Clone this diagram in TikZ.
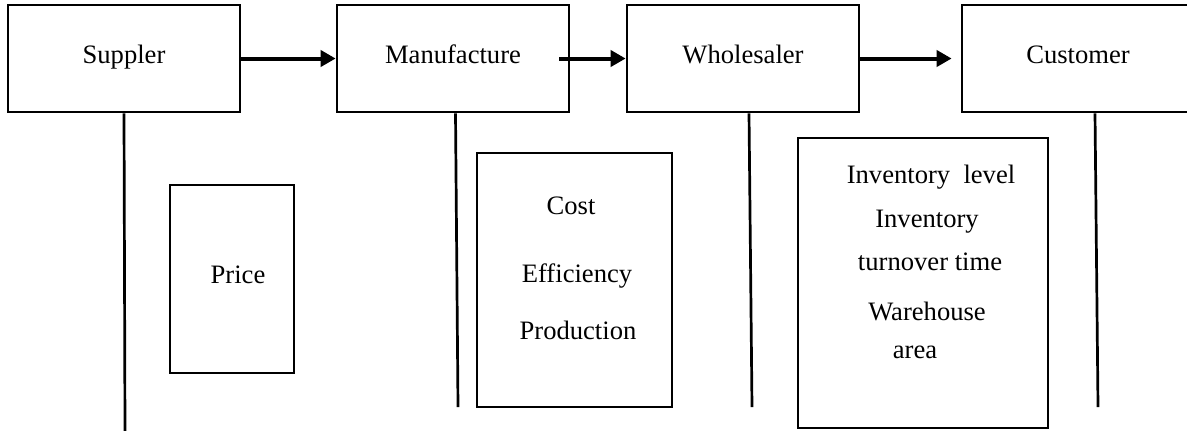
\documentclass[tikz,border=0pt]{standalone}
\usepackage{fontspec}
\setmainfont{Liberation Serif}
\usetikzlibrary{positioning,arrows.meta}

\begin{document}
\begin{tikzpicture}[x=0.5pt, y=-0.5pt,
    stagebox/.style={rectangle, draw=black, line width=1.35pt, minimum width=116pt, minimum height=53.5pt, text height=0.7em, text depth=0.25em, font=\fontsize{13.3pt}{16pt}\selectfont},
    metricbox/.style={rectangle, draw=black, line width=1.35pt},
    metrictext/.style={anchor=base, inner sep=0pt, font=\fontsize{13.3pt}{16pt}\selectfont},
    flow/.style={-{Triangle[length=7.5pt, width=8pt]}, line width=2pt},
    link/.style={line width=1.35pt},]
    \useasboundingbox (0,0) rectangle (1187,430);
    \clip (0,0) rectangle (1187,430);
    % nodes
    \node[stagebox]      (sup)                                   at (124,58.5)  {Suppler};
    \node[stagebox]      (man)       [right=47.15pt of sup]                     {Manufacture};
    \node[stagebox]      (who)       [right=27.65pt of man]                     {Wholesaler};
    \node[stagebox]      (cus)       [right=50.15pt of who]                     {Customer};
    \node[metricbox, minimum width=62pt, minimum height=94pt]     (price)   at (232,279)   {};
    \node[metricbox, minimum width=97.5pt, minimum height=127pt]  (cost)    at (574.5,280) {};
    \node[metricbox, minimum width=125pt, minimum height=145pt]   (stock)   at (923,283)   {};
    % texts
    \node[metrictext]    (pricet)     at (238,283)   {Price};
    \node[metrictext]    (costt)      at (571,214)   {Cost};
    \node[metrictext]    (efft)       at (577,282)   {Efficiency};
    \node[metrictext]    (prodt)      at (578,339)   {Production};
    \node[metrictext]    (levelt)     at (931,183)   {Inventory\ \ level};
    \node[metrictext]    (invt)       at (927,227)   {Inventory};
    \node[metrictext]    (turnt)      at (930,270)   {turnover time};
    \node[metrictext]    (waret)      at (927,320)   {Warehouse};
    \node[metrictext]    (areat)      at (915,358)   {area};
    % line ends
    \coordinate (supEnd) at (125,432);
    \coordinate (manEnd) at (458,407);
    \coordinate (whoEnd) at (752,407);
    \coordinate (cusEnd) at (1098,407);
    % lines
    \draw[flow] (sup.east) -- (man.west);
    \draw[flow] ([xshift=-5.5pt]man.east) -- (who.west);
    \draw[flow] (who.east) -- ([xshift=-4.5pt]cus.west);
    \draw[link] (sup.south) -- (supEnd);
    \draw[link] ([xshift=1.25pt]man.south) -- (manEnd);
    \draw[link] ([xshift=3pt]who.south) -- (whoEnd);
    \draw[link] ([xshift=8.5pt]cus.south) -- (cusEnd);
\end{tikzpicture}
\end{document}
